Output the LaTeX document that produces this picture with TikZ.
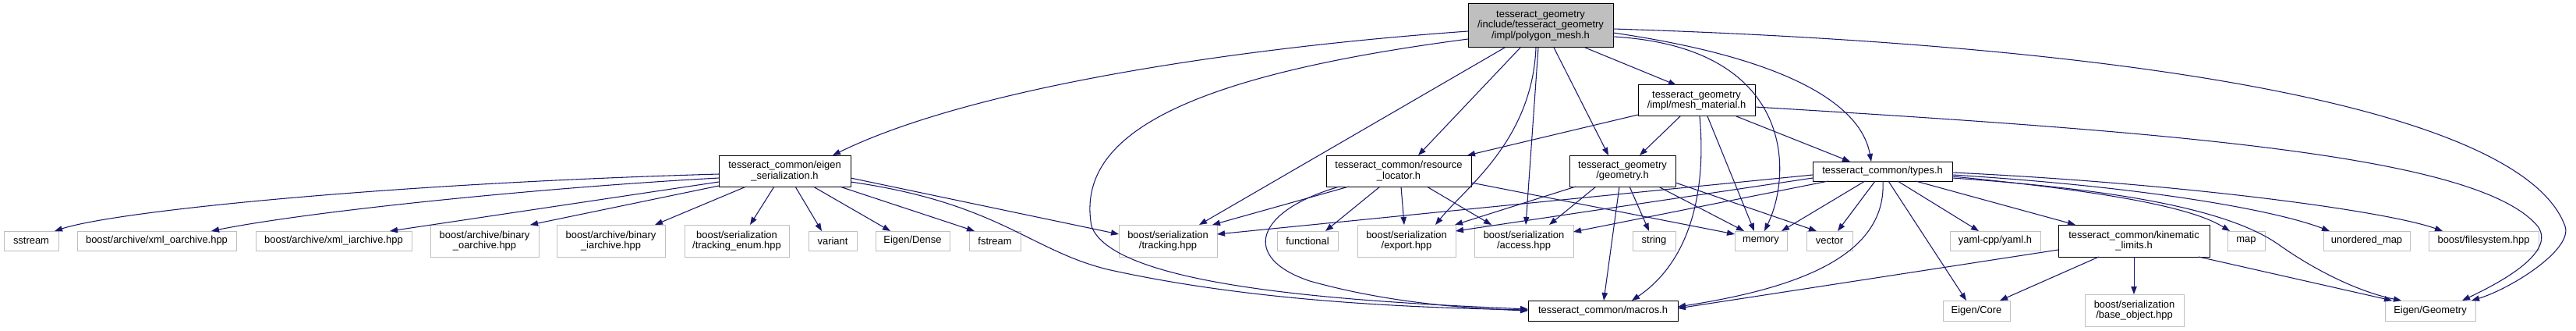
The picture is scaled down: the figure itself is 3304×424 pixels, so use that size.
\documentclass[tikz,border=0pt]{standalone}
\usepackage{fontspec}
\setmainfont{Liberation Sans}
\usetikzlibrary{arrows.meta,calc}
\definecolor{edgeblue}{HTML}{191970}
\definecolor{leafgray}{HTML}{BFBFBF}
\begin{document}
\begin{tikzpicture}[x=0.75pt,y=-0.75pt,
  nd/.style={draw=black, fill=white, line width=0.75pt, inner sep=1pt, align=center, font=\fontsize{9.7}{10}\selectfont, text=black},
  leaf/.style={nd, draw=leafgray},
  sz/.style 2 args={minimum width=#1*0.75pt, minimum height=#2*0.75pt},
  e/.style={draw=edgeblue, line width=0.8pt, -{Triangle[length=7.5pt,width=5.5pt]}}
]
\useasboundingbox (0,0) rectangle (3304,424);

% documented nodes
\node[nd, fill=leafgray, sz={186}{56}] (root) at (1976,33) {tesseract\_geometry\\/include/tesseract\_geometry\\/impl/polygon\_mesh.h};
\node[nd, sz={169}{40}] (eig) at (1006.5,219) {tesseract\_common/eigen\\\_serialization.h};
\node[nd, sz={186}{40}] (rl) at (1794,219) {tesseract\_common/resource\\\_locator.h};
\node[nd, sz={136}{40}] (geo) at (2081,219) {tesseract\_geometry\\/geometry.h};
\node[nd, sz={150}{40}] (mm) at (2176,129) {tesseract\_geometry\\/impl/mesh\_material.h};
\node[nd, sz={179}{25}] (types) at (2414.5,219.5) {tesseract\_common/types.h};
\node[nd, sz={194}{41}] (kin) at (2737,308.5) {tesseract\_common/kinematic\\\_limits.h};
\node[nd, sz={192}{26}] (macros) at (2056,398) {tesseract\_common/macros.h};

% leaf nodes
\node[leaf, sz={70}{25}] (sstream) at (40,308.5) {sstream};
\node[leaf, sz={204}{25}] (xmlo) at (201,308.5) {boost/archive/xml\_oarchive.hpp};
\node[leaf, sz={200}{25}] (xmli) at (428,308.5) {boost/archive/xml\_iarchive.hpp};
\node[leaf, sz={139}{41}] (bino) at (621.5,308.5) {boost/archive/binary\\\_oarchive.hpp};
\node[leaf, sz={139}{41}] (bini) at (783.5,308.5) {boost/archive/binary\\\_iarchive.hpp};
\node[leaf, sz={134}{41}] (tenum) at (945,308.5) {boost/serialization\\/tracking\_enum.hpp};
\node[leaf, sz={62}{25}] (variant) at (1068,308.5) {variant};
\node[leaf, sz={95}{25}] (edense) at (1170.5,308.5) {Eigen/Dense};
\node[leaf, sz={66}{25}] (fstream) at (1276,308.5) {fstream};
\node[leaf, sz={126}{41}] (tracking) at (1498,308.5) {boost/serialization\\/tracking.hpp};
\node[leaf, sz={78}{25}] (functional) at (1677,308.5) {functional};
\node[leaf, sz={126}{41}] (export) at (1804,308.5) {boost/serialization\\/export.hpp};
\node[leaf, sz={127}{41}] (access) at (1954.5,308.5) {boost/serialization\\/access.hpp};
\node[leaf, sz={55}{25}] (string) at (2121.5,308.5) {string};
\node[leaf, sz={67}{25}] (memory) at (2258.5,308.5) {memory};
\node[leaf, sz={59}{25}] (vector) at (2346.5,308.5) {vector};
\node[leaf, sz={116}{25}] (yaml) at (2559,308.5) {yaml-cpp/yaml.h};
\node[leaf, sz={48}{25}] (map) at (2881,308.5) {map};
\node[leaf, sz={111}{25}] (umap) at (3035.5,308.5) {unordered\_map};
\node[leaf, sz={141}{25}] (fs) at (3185.5,308.5) {boost/filesystem.hpp};
\node[leaf, sz={86}{26}] (ecore) at (2535,398) {Eigen/Core};
\node[leaf, sz={127}{41}] (base) at (2737.5,397.5) {boost/serialization\\/base\_object.hpp};
\node[leaf, sz={116}{26}] (egeo) at (3117,398) {Eigen/Geometry};

% root edges
\draw[e] ($(root.center)+(-93,7)$) .. controls (1600,60) and (1250,110) .. ($(eig.center)+(61.5,-20)$);
\draw[e] ($(root.center)+(-93,17)$) .. controls (1500,100) and (1380,180) .. (1400,290) .. controls (1430,370) and (1750,387) .. ($(macros.center)+(-96,-2)$);
\draw[e] ($(root.center)+(-46,28)$) -- ($(tracking.center)+(40,-20.5)$);
\draw[e] ($(root.center)+(-26,28)$) -- ($(rl.center)+(25,-20)$);
\draw[e] ($(root.center)+(-6,28)$) .. controls (1965,180) and (1880,240) .. ($(export.center)+(37,-20.5)$);
\draw[e] ($(root.center)+(-3,28)$) -- ($(access.center)+(2.5,-20.5)$);
\draw[e] ($(root.center)+(17,28)$) -- ($(geo.center)+(-18,-20)$);
\draw[e] ($(root.center)+(57,28)$) -- ($(mm.center)+(-26,-20)$);
\draw[e] ($(root.center)+(93,14)$) .. controls (2300,60) and (2300,220) .. ($(memory.center)+(4.5,-12.5)$);
\draw[e] ($(root.center)+(93,9)$) .. controls (2330,80) and (2390,150) .. ($(types.center)+(-14.5,-12.5)$);
\draw[e] ($(root.center)+(93,4)$) .. controls (2800,60) and (3240,150) .. (3290,290) .. controls (3300,320) and (3220,370) .. ($(egeo.center)+(53,-13)$);

% eigen_serialization edges
\draw[e] ($(eig.center)+(-84.5,4)$) .. controls (500,235) and (150,270) .. ($(sstream.center)+(30,-12.5)$);
\draw[e] ($(eig.center)+(-84.5,9)$) .. controls (700,240) and (400,270) .. ($(xmlo.center)+(70,-12.5)$);
\draw[e] ($(eig.center)+(-84.5,14)$) -- ($(xmli.center)+(72,-12.5)$);
\draw[e] ($(eig.center)+(-84.5,19)$) -- ($(bino.center)+(58.5,-20.5)$);
\draw[e] ($(eig.center)+(-49.5,20)$) -- ($(bini.center)+(56.5,-20.5)$);
\draw[e] ($(eig.center)+(-13.5,20)$) -- ($(tenum.center)+(17,-20.5)$);
\draw[e] ($(eig.center)+(13.5,20)$) -- ($(variant.center)+(-14,-12.5)$);
\draw[e] ($(eig.center)+(36.5,20)$) -- ($(edense.center)+(-28.5,-12.5)$);
\draw[e] ($(eig.center)+(70.5,20)$) -- ($(fstream.center)+(-26,-12.5)$);
\draw[e] ($(eig.center)+(84.5,9)$) -- ($(tracking.center)+(-63,-8.5)$);
\draw[e] ($(eig.center)+(84.5,14)$) .. controls (1280,260) and (1320,320) .. (1420,345) .. controls (1600,385) and (1800,394) .. ($(macros.center)+(-96,-1)$);

% resource_locator edges
\draw[e] ($(rl.center)+(-64,20)$) -- ($(tracking.center)+(57,-20.5)$);
\draw[e] ($(rl.center)+(-76,20)$) .. controls (1610,270) and (1590,330) .. (1680,360) .. controls (1780,388) and (1880,395) .. ($(macros.center)+(-96,0)$);
\draw[e] ($(rl.center)+(-24,20)$) -- ($(functional.center)+(23,-12.5)$);
\draw[e] ($(rl.center)+(3,20)$) -- ($(export.center)+(-3,-20.5)$);
\draw[e] ($(rl.center)+(36,20)$) -- ($(access.center)+(-41.5,-20.5)$);
\draw[e] ($(rl.center)+(93,15)$) -- ($(memory.center)+(-33.5,-8.5)$);

% geometry edges
\draw[e] ($(geo.center)+(-60,20)$) -- ($(export.center)+(62,-20.5)$);
\draw[e] ($(geo.center)+(-34,20)$) -- ($(access.center)+(32.5,-20.5)$);
\draw[e] ($(geo.center)+(-4,20)$) -- ($(macros.center)+(1,-13)$);
\draw[e] ($(geo.center)+(9,20)$) -- ($(string.center)+(-6.5,-12.5)$);
\draw[e] ($(geo.center)+(46,20)$) -- ($(memory.center)+(-21.5,-12.5)$);
\draw[e] ($(geo.center)+(68,15)$) -- ($(vector.center)+(-16.5,-12.5)$);

% mesh_material edges
\draw[e] ($(mm.center)+(-75,18)$) -- ($(rl.center)+(88,-20)$);
\draw[e] ($(mm.center)+(-21,20)$) -- ($(geo.center)+(22,-20)$);
\draw[e] ($(mm.center)+(4,20)$) .. controls (2190,260) and (2160,340) .. ($(macros.center)+(37,-13)$);
\draw[e] ($(mm.center)+(14,20)$) -- ($(memory.center)+(-8.5,-12.5)$);
\draw[e] ($(mm.center)+(51,20)$) -- ($(types.center)+(-41.5,-12.5)$);
\draw[e] ($(mm.center)+(75,8)$) .. controls (2800,170) and (3180,200) .. (3255,290) .. controls (3280,325) and (3200,365) .. ($(egeo.center)+(41,-13)$);

% types edges
\draw[e] ($(types.center)+(-89.5,4.5)$) -- ($(tracking.center)+(63,-8.5)$);
\draw[e] ($(types.center)+(-89.5,8.5)$) -- ($(export.center)+(63,-12.5)$);
\draw[e] ($(types.center)+(-69.5,12.5)$) -- ($(access.center)+(63.5,-11.5)$);
\draw[e] ($(types.center)+(-22.5,12.5)$) -- ($(memory.center)+(26.5,-12.5)$);
\draw[e] ($(types.center)+(-9.5,12.5)$) -- ($(vector.center)+(10.5,-12.5)$);
\draw[e] ($(types.center)+(0.5,12.5)$) .. controls (2420,330) and (2300,370) .. ($(macros.center)+(96,-5)$);
\draw[e] ($(types.center)+(7.5,12.5)$) -- ($(ecore.center)+(-13,-13)$);
\draw[e] ($(types.center)+(19.5,12.5)$) -- ($(yaml.center)+(-21,-12.5)$);
\draw[e] ($(types.center)+(42.5,12.5)$) -- ($(kin.center)+(-75,-20.5)$);
\draw[e] ($(types.center)+(89.5,6.5)$) .. controls (2700,245) and (2810,265) .. ($(map.center)+(-21,-12.5)$);
\draw[e] ($(types.center)+(89.5,4.5)$) .. controls (2760,240) and (2920,270) .. ($(umap.center)+(-47.5,-12.5)$);
\draw[e] ($(types.center)+(89.5,1.5)$) .. controls (2800,235) and (3060,270) .. ($(fs.center)+(-52.5,-12.5)$);
\draw[e] ($(types.center)+(89.5,8.5)$) .. controls (2750,245) and (2870,275) .. (2925,315) .. controls (2975,350) and (3030,375) .. ($(egeo.center)+(-37,-13)$);

% kinematic_limits edges
\draw[e] ($(kin.center)+(-97,11.5)$) -- ($(macros.center)+(96,-3)$);
\draw[e] ($(kin.center)+(-45,20.5)$) -- ($(ecore.center)+(30,-13)$);
\draw[e] ($(kin.center)+(0,20.5)$) -- ($(base.center)+(-0.5,-20.5)$);
\draw[e] ($(kin.center)+(83,20.5)$) -- ($(egeo.center)+(-49,-13)$);
\end{tikzpicture}
\end{document}
